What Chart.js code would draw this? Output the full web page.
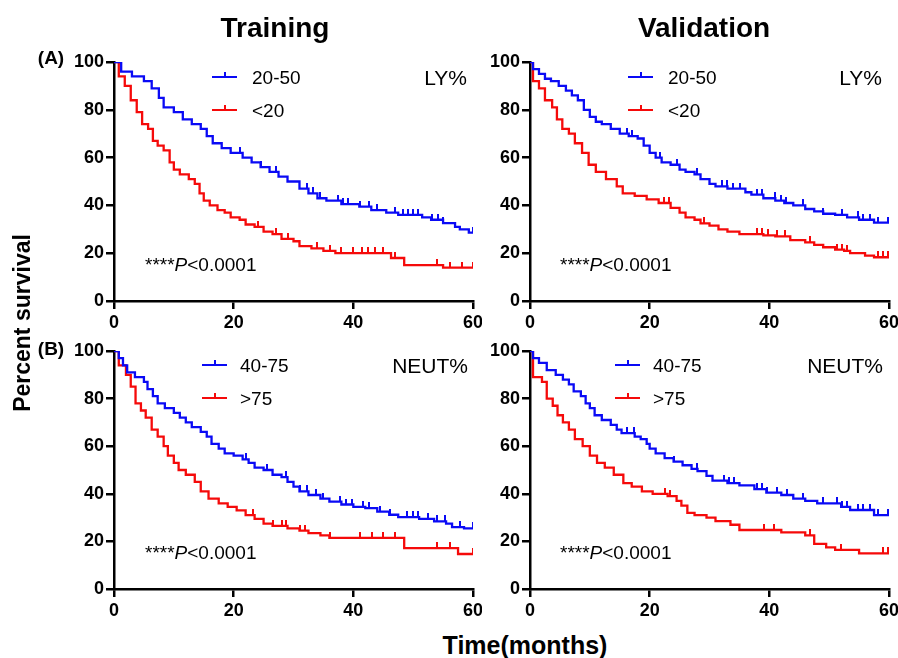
<!DOCTYPE html>
<html>
<head>
<meta charset="utf-8">
<script src="https://cdn.jsdelivr.net/npm/chart.js@4.4.0/dist/chart.umd.min.js"></script>
<style>
  body { margin: 0; width: 898px; height: 658px; overflow: hidden; background: #fff; position: relative;
         font-family: Arial, 'Liberation Sans', sans-serif; color: #000; }
  canvas { position: absolute; }
  .txt { position: absolute; white-space: nowrap; line-height: 1; }
  .mid { transform: translate(-50%, -50%); }
  .left { transform: translateY(-50%); }
  .right { transform: translate(-100%, -50%); }
  .key { position: absolute; width: 25px; height: 2px; transform: translateY(-50%); }
  .key span { position: absolute; left: 11.5px; bottom: 0; width: 2px; height: 6px; }
</style>
</head>
<body>
<script>
// === km panels ===
// Four Kaplan-Meier panels (LY% / NEUT%, training / validation)

const xTicks = [0, 20, 40, 60];
const yTicks = [0, 20, 40, 60, 80, 100];

// LY% training
const lyTrainHighTime = [0, 1.2, 3, 5, 6.3, 7.5, 8.3, 10, 11.5, 13, 14.5, 15.5, 16.5, 18, 19.5, 21.5, 23, 24.5, 26, 27.5, 29, 31, 32.5, 34, 35.5, 38, 41, 43, 45.5, 47.5, 51.5, 53, 55, 57, 57.8, 59.3];
const lyTrainHighSurv = [100, 96, 94, 92, 89, 85, 81, 79, 76, 74, 72, 69, 66, 64, 62, 60, 58, 56, 54, 52, 50, 47, 45, 43, 42, 40.5, 39.5, 38, 37, 36, 35, 34, 32.6, 31, 30, 28.6];
const lyTrainHighCensor = [21, 24.5, 27, 32.2, 33.3, 34.4, 37.5, 38.3, 39.1, 41.1, 42.7, 43.9, 46.9, 48.3, 49.1, 50, 50.8, 53.1, 54.2, 55, 60];
const lyTrainLowTime = [0, 0.8, 1.8, 2.8, 3.8, 4.7, 5.7, 6.5, 7.3, 8.3, 9.3, 10, 11, 12.5, 13.5, 14.3, 15, 16, 17.3, 18.5, 19.5, 21, 22, 23.5, 25, 26.5, 28, 30, 31, 33, 35, 37, 46.3, 48.5, 55];
const lyTrainLowSurv = [100, 94, 90, 84, 79, 74, 72, 67, 65, 63, 58, 55, 53, 51, 49, 45, 42, 40, 38, 37, 35, 34, 32, 31, 29, 28, 26, 25, 23, 22, 21, 20, 18, 15, 14];
const lyTrainLowCensor = [24, 27, 29, 34, 36.1, 38, 40, 41.4, 42.5, 43.6, 45, 46.9, 53.9, 56.1, 58.1, 60];

// LY% validation
const lyValidHighTime = [0, 0.5, 1.5, 2.5, 3.5, 4.8, 6, 7, 8, 9, 10, 11, 12, 13.5, 15, 16.5, 18, 19, 20, 21, 22, 23.5, 25, 26, 27.5, 28.5, 30, 31, 33, 36, 37, 39, 41, 42.5, 44, 46, 47.5, 49, 51, 53, 55, 57.5];
const lyValidHighSurv = [100, 97, 95, 93, 92, 90, 88, 86, 84, 80, 77, 75, 74, 72, 70, 69, 68, 65, 62, 60, 58, 57, 55, 54, 53, 51, 49, 48, 47, 45.5, 44.5, 43, 42, 41, 40, 38.5, 37.5, 36.5, 36, 35, 34, 32.8];
const lyValidHighCensor = [16.2, 17, 21.7, 24.5, 27.9, 32.1, 32.9, 34, 35.1, 37.9, 38.7, 40.9, 42, 42.8, 45.7, 49, 52.1, 54.9, 55.7, 56.8, 58.2, 59.9];
const lyValidLowTime = [0, 0.5, 1.5, 2.5, 3.7, 4.5, 5.4, 6.5, 7.5, 8.7, 9.8, 11, 12.7, 14.5, 15.5, 17.5, 19.5, 21.5, 23.5, 25, 26, 27.5, 28.5, 30, 31.5, 33, 35, 39, 41, 43.5, 46, 47.5, 49, 51, 52.5, 53.5, 56, 57.5];
const lyValidLowSurv = [100, 92, 89, 84, 81, 76, 72, 70, 66, 62, 57, 54, 51, 48, 45, 44, 42.5, 41, 39, 37, 35, 34, 32.5, 31.5, 30, 29, 28, 27.5, 27, 25.5, 24.5, 23.5, 22.5, 21.5, 21, 20, 19, 18.3];
const lyValidLowCensor = [22.4, 23.2, 29, 37.9, 38.7, 39.8, 41.2, 42.6, 46.8, 51.3, 52.1, 52.9, 58.2, 59, 59.9];

// NEUT% training
const neutTrainHighTime = [0, 0.8, 1.5, 2.2, 3.5, 5, 5.6, 6.5, 7.3, 8.5, 10, 11, 12, 13, 14.5, 15.5, 16.3, 17.5, 18.5, 20, 21.5, 22.5, 23.5, 25, 26.5, 28, 29, 30, 31, 32.5, 34.5, 36, 38, 40, 42, 44, 46, 47.5, 51, 53.5, 55.5, 56.5, 58.5];
const neutTrainHighSurv = [100, 97, 94, 91, 89, 87, 84, 81, 78, 76, 74, 72, 70, 68, 66, 64, 61, 59, 57, 56, 54.5, 53, 51, 50, 48, 47, 45, 43, 41, 39.5, 38, 36.7, 35.5, 34.5, 34, 32.5, 31.2, 30.2, 29.5, 28.4, 27.5, 26, 25.5];
const neutTrainHighCensor = [22.1, 25.5, 28.8, 31.1, 32.2, 33.8, 34.9, 37.7, 38.8, 39.7, 41.6, 42.7, 44.4, 46.1, 48.9, 50, 50.8, 52.5, 53.9, 55.3, 57.8, 60];
const neutTrainLowTime = [0, 0.8, 2, 2.8, 3.6, 4.5, 5.3, 6.3, 7.3, 8.3, 9, 10, 10.8, 12, 13.5, 14.5, 15.8, 17.5, 19, 20.5, 22, 23.5, 25, 26.5, 29, 31, 32.5, 34.5, 36, 48.5, 57.5];
const neutTrainLowSurv = [100, 94, 90, 85, 78, 75, 72, 67, 64, 60, 56, 53, 50, 48, 45, 41, 38, 36, 34.5, 33, 31, 29.5, 27.5, 26.5, 25.5, 24.5, 23.5, 22.5, 21.5, 17.2, 14.7];
const neutTrainLowCensor = [23.3, 26.6, 28, 28.8, 31.1, 31.9, 36.1, 41.1, 43.1, 45, 47, 54, 56.2, 60];

// NEUT% validation
const neutValidHighTime = [0, 0.5, 1.5, 2.8, 4.3, 5.5, 6.5, 7.3, 8.5, 9.3, 10, 10.8, 12, 13.5, 14.5, 15.3, 17.5, 18.5, 19.5, 20, 21, 22.5, 24, 25.5, 27, 28, 29.5, 30.5, 33, 35, 37.5, 39.5, 42, 44, 46, 48, 52, 53.5, 57.5];
const neutValidHighSurv = [100, 97, 95, 92, 90, 88, 86, 83, 81, 78, 76, 73, 71, 69, 67, 65.5, 64, 63, 61, 59, 57, 55, 53.5, 52, 50.5, 49.5, 47.5, 45.5, 44.5, 43.5, 42, 40.5, 39.5, 38, 37, 36, 34.5, 33.2, 31];
const neutValidHighCensor = [16.2, 17.3, 24, 27.9, 32.5, 33.3, 34.1, 38, 38.8, 39.6, 41.3, 43, 45.7, 49, 51.3, 52.1, 52.9, 54.9, 55.7, 56.8, 58.2, 59.9];
const neutValidLowTime = [0, 0.5, 2, 2.8, 3.8, 4.6, 5.5, 6.5, 7.5, 8.8, 10, 11.2, 12.5, 14, 15.6, 17, 18.7, 20.5, 23, 24.5, 25.3, 26.3, 27.5, 29.5, 31, 33.5, 35, 42, 46, 47.5, 49.5, 51, 55];
const neutValidLowSurv = [100, 89, 87, 80, 77, 73, 70, 67, 63, 60, 56, 53, 51, 48, 44.5, 43, 41, 40, 39, 37, 35, 32, 31, 30, 28.5, 27, 24.8, 23.8, 22.5, 19, 17.5, 16.4, 15];
const neutValidLowCensor = [22.6, 23.4, 39.1, 40.8, 46.8, 51.9, 59, 59.9];

const BLUE = 'rgb(10, 10, 245)';
const RED = 'rgb(245, 10, 10)';
const FONT = "Arial, 'Liberation Sans', sans-serif";

// step points, last level carried to end of follow-up
const stepPoints = (times, surv) => {
    const pts = times.map((t, i) => ({ x: t, y: surv[i] }));
    pts.push({ x: 60, y: surv[surv.length - 1] });
    return pts;
};

// survival level at time t (for placing censor ticks on the curve)
const survAt = (times, surv, t) => {
    let s = surv[0];
    times.forEach((tt, i) => { if (tt <= t) s = surv[i]; });
    return s;
};

// small upward tick used as the censor marker
const tickImage = (color) => {
    const c = document.createElement('canvas');
    c.width = 2; c.height = 12;
    const g = c.getContext('2d');
    g.fillStyle = color;
    g.fillRect(0, 0, 2, 6);
    return c;
};

const curveSets = (times, surv, censor, color) => [
    {
        data: stepPoints(times, surv),
        borderColor: color, borderWidth: 2.3, stepped: 'before',
        pointRadius: 0, fill: false
    },
    {
        data: censor.map(t => ({ x: t, y: survAt(times, surv, t) })),
        showLine: false, pointStyle: tickImage(color), pointRadius: 3
    }
];

const axisStyle = {
    border: { color: '#000', width: 2.5 },
    grid: { drawOnChartArea: false, drawTicks: true, tickLength: 8, color: '#000', lineWidth: 2.5 }
};

const makePanel = (p) => {
    const canvas = document.createElement('canvas');
    canvas.width = 432; canvas.height = p.h;
    canvas.style.left = p.left + 'px'; canvas.style.top = p.top + 'px';
    document.body.appendChild(canvas);

    new Chart(canvas.getContext('2d'), {
        type: 'line',
        data: {
            datasets: [
                ...curveSets(p.high[0], p.high[1], p.high[2], BLUE),
                ...curveSets(p.low[0], p.low[1], p.low[2], RED)
            ]
        },
        options: {
            responsive: false, animation: false,
            layout: { autoPadding: false, padding: { left: 0, top: 22, right: 9, bottom: 0 } },
            plugins: { legend: { display: false }, tooltip: { enabled: false } },
            scales: {
                x: {
                    type: 'linear', min: 0, max: 60, ...axisStyle,
                    afterBuildTicks: s => { s.ticks = xTicks.map(v => ({ value: v })); },
                    // fixed height, and no extra room for the end labels
                    afterFit: s => { s.height = 40; s.paddingLeft = 0; s.paddingRight = 0; },
                    ticks: { color: '#000', padding: 3, font: { family: FONT, size: 18, weight: 'bold' } }
                },
                y: {
                    min: 0, max: 100, ...axisStyle,
                    afterBuildTicks: s => { s.ticks = yTicks.map(v => ({ value: v })); },
                    afterFit: s => { s.width = 64; s.paddingTop = 0; s.paddingBottom = 0; },
                    ticks: { color: '#000', padding: 2, font: { family: FONT, size: 18, weight: 'bold' } }
                }
            }
        }
    });
};

[
    { left: 50, top: 40, h: 301,
      high: [lyTrainHighTime, lyTrainHighSurv, lyTrainHighCensor], low: [lyTrainLowTime, lyTrainLowSurv, lyTrainLowCensor] },
    { left: 466, top: 40, h: 301,
      high: [lyValidHighTime, lyValidHighSurv, lyValidHighCensor], low: [lyValidLowTime, lyValidLowSurv, lyValidLowCensor] },
    { left: 50, top: 329, h: 300,
      high: [neutTrainHighTime, neutTrainHighSurv, neutTrainHighCensor], low: [neutTrainLowTime, neutTrainLowSurv, neutTrainLowCensor] },
    { left: 466, top: 329, h: 300,
      high: [neutValidHighTime, neutValidHighSurv, neutValidHighCensor], low: [neutValidLowTime, neutValidLowSurv, neutValidLowCensor] }
].forEach(makePanel);

// text overlays
const addText = (html, x, y, cls, css) => {
    const d = document.createElement('div');
    d.className = 'txt ' + cls;
    d.innerHTML = html;
    d.style.left = x + 'px'; d.style.top = y + 'px';
    Object.assign(d.style, css || {});
    document.body.appendChild(d);
};

const addKey = (x, y, color) => {
    const k = document.createElement('div');
    k.className = 'key';
    k.style.left = x + 'px'; k.style.top = y + 'px'; k.style.background = color;
    const t = document.createElement('span');
    t.style.background = color;
    k.appendChild(t);
    document.body.appendChild(k);
};

const bold = (size) => ({ fontWeight: 'bold', fontSize: size + 'px' });
const plain = (size) => ({ fontSize: size + 'px' });

addText('Training', 275, 28, 'mid', bold(28));
addText('Validation', 704, 28, 'mid', bold(28));
addText('(A)', 51, 57, 'mid', bold(19));
addText('(B)', 51, 348, 'mid', bold(19));
addText('Percent survival', 22, 323, 'mid', Object.assign(bold(23), { transform: 'translate(-50%, -50%) rotate(-90deg)' }));
addText('Time(months)', 525, 645, 'mid', bold(25));

// legends, group names and p-values per panel
const legendRows = [
    { keyX: 212, textX: 252, y: 77, labels: ['20-50', '&lt;20'], tag: 'LY%', tagX: 467, pX: 145, pY: 264 },
    { keyX: 628, textX: 668, y: 77, labels: ['20-50', '&lt;20'], tag: 'LY%', tagX: 882, pX: 560, pY: 264 },
    { keyX: 202, textX: 240, y: 365, labels: ['40-75', '&gt;75'], tag: 'NEUT%', tagX: 468, pX: 145, pY: 552 },
    { keyX: 615, textX: 653, y: 365, labels: ['40-75', '&gt;75'], tag: 'NEUT%', tagX: 883, pX: 560, pY: 552 }
];

legendRows.forEach(r => {
    addKey(r.keyX, r.y, BLUE);
    addKey(r.keyX, r.y + 33, RED);
    addText(r.labels[0], r.textX, r.y, 'left', plain(19));
    addText(r.labels[1], r.textX, r.y + 33, 'left', plain(19));
    addText(r.tag, r.tagX, r.y, 'right', plain(21));
    addText('****<i>P</i>&lt;0.0001', r.pX, r.pY, 'left', plain(19));
});
</script>
</body>
</html>
